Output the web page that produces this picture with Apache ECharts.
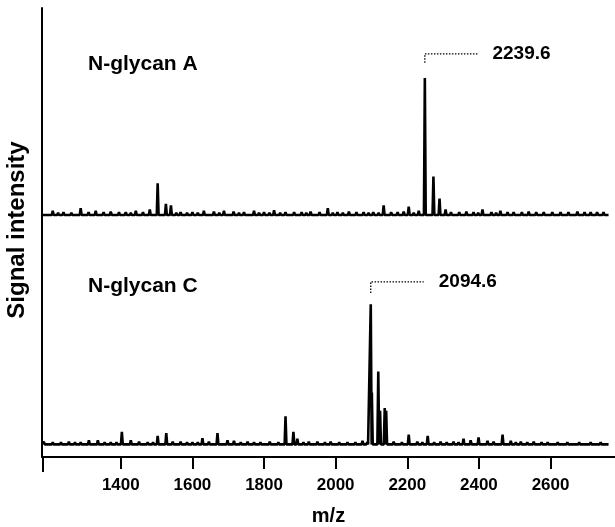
<!DOCTYPE html>
<html>
<head>
<meta charset="utf-8">
<style>
  html, body { margin: 0; padding: 0; background: #fff; }
  #chart { width: 615px; height: 527px; }
</style>
<script src="https://cdn.jsdelivr.net/npm/echarts@6/dist/echarts.min.js"></script>
</head>
<body>
<div id="chart"></div>
<script>
// MALDI spectra of two N-glycans, sharing one m/z axis
const chart = echarts.init(document.getElementById('chart'));

const mzRange = [1180, 2780];
const mzTicks = [1400, 1600, 1800, 2000, 2200, 2400, 2600];
const traceStart = 1182, traceEnd = 2762;

// [m/z, relative intensity], N-glycan A (top)
const peaksA = [
  [1210, 3], [1225, 1.5], [1240, 2], [1262, 1.5], [1288, 5], [1310, 2], [1330, 3], [1352, 2],
  [1372, 2.5], [1395, 2], [1414, 2], [1428, 1.5], [1442, 3], [1462, 2], [1481, 4], [1503, 23],
  [1526, 8], [1540, 7], [1555, 1.5], [1567, 2], [1585, 1.5], [1600, 2], [1615, 1.5], [1632, 3],
  [1660, 2.5], [1675, 1.5], [1688, 3], [1715, 2.5], [1730, 1.5], [1744, 2], [1772, 3], [1786, 1.5],
  [1800, 2], [1815, 1.5], [1828, 3.5], [1845, 1.5], [1860, 2], [1884, 2], [1905, 2], [1918, 1.5],
  [1930, 2.5], [1955, 2], [1978, 5], [1992, 1.5], [2005, 2], [2020, 1.5], [2037, 2.5], [2058, 2],
  [2078, 2], [2092, 1.5], [2105, 2], [2120, 1.5], [2134, 7], [2155, 2], [2173, 2], [2190, 2.5],
  [2204, 6], [2218, 1.5], [2232, 3], [2249, 100], [2273, 28], [2290, 12], [2307, 4], [2322, 2],
  [2345, 2], [2365, 2.5], [2385, 2], [2398, 1.5], [2410, 4], [2435, 2], [2448, 1.5], [2460, 3],
  [2480, 2], [2497, 2], [2520, 2], [2539, 2.5], [2560, 2], [2581, 2], [2605, 2], [2628, 2],
  [2650, 2], [2675, 2.5], [2695, 2], [2712, 2], [2730, 2], [2748, 2]
];

// N-glycan C (bottom)
const peaksC = [
  [1185, 2], [1210, 1.5], [1233, 1.5], [1255, 2], [1272, 1.5], [1288, 1.5], [1311, 3], [1336, 3],
  [1355, 1.5], [1372, 1.5], [1388, 1.5], [1403, 9], [1428, 3], [1451, 2], [1475, 1.5], [1490, 1.5],
  [1503, 6], [1527, 8], [1545, 2], [1567, 2], [1585, 1.5], [1600, 1.5], [1615, 1.5], [1628, 4.5],
  [1646, 2], [1670, 8], [1698, 3], [1716, 2.5], [1735, 1.5], [1754, 2], [1772, 1.5], [1790, 1.5],
  [1816, 2], [1840, 1.5], [1860, 20], [1882, 9], [1893, 4], [1910, 1.5], [1925, 2], [1949, 2],
  [1970, 1.5], [1986, 2], [2010, 1.5], [2033, 1.5], [2055, 1.5], [2075, 2.5], [2088, 1.5],
  [2098, 100], [2101, 37], [2119, 52], [2124, 24], [2137, 26], [2141, 24], [2162, 2], [2185, 1.5],
  [2204, 7], [2228, 2], [2242, 1.5], [2257, 6], [2275, 1.5], [2293, 2], [2310, 1.5], [2329, 2],
  [2343, 1.5], [2357, 4], [2377, 3], [2399, 5], [2424, 2.5], [2441, 2], [2466, 7], [2489, 2.5],
  [2503, 1.5], [2517, 2], [2535, 1.5], [2553, 2], [2575, 1.5], [2592, 1.5], [2620, 1.5], [2647, 1.5],
  [2680, 1.5], [2712, 1.5], [2740, 1.5]
];

// peak annotations: dotted leader from the peak top up, then across to the label
const annotA = { mz: 2249, y0: 111, y1: 117.5, x1: 2396, text: '2239.6' };
const annotC = { mz: 2098, y0: 108, y1: 116, x1: 2246, text: '2094.6' };

const FONT = 'Liberation Sans';

function sticks(peaks){
  const w = 2.5;
  const pts = [[traceStart, 0]];
  peaks.slice().sort((a, b) => a[0] - b[0]).forEach(p => {
    pts.push([p[0] - w, 0], [p[0], p[1]], [p[0] + w, 0]);
  });
  pts.push([traceEnd, 0]);
  return pts;
}

function leader(a, gridIdx){
  return {
    type: 'line',
    xAxisIndex: gridIdx, yAxisIndex: gridIdx,
    showSymbol: false,
    silent: true,
    lineStyle: { color: '#000', width: 1.3, type: [1.5, 1.5] },
    endLabel: {
      show: true, distance: 15, formatter: a.text,
      fontFamily: FONT, fontWeight: 'bold', fontSize: 19, color: '#000'
    },
    data: [[a.mz, a.y0], [a.mz, a.y1], [a.x1, a.y1]]
  };
}

function spectrum(peaks, gridIdx){
  return {
    type: 'line',
    xAxisIndex: gridIdx, yAxisIndex: gridIdx,
    showSymbol: false,
    sampling: null,
    lineStyle: { color: '#000', width: 2.6 },
    data: sticks(peaks)
  };
}

const yBase = {
  type: 'value',
  axisLine: { show: true, onZero: false, lineStyle: { color: '#000', width: 2 } },
  axisTick: { show: false },
  axisLabel: { show: false },
  splitLine: { show: false }
};

chart.setOption({
  animation: false,
  backgroundColor: '#fff',
  grid: [
    { left: 42, right: 0, top: 8, height: 222 },
    { left: 42, right: 0, top: 230, height: 228 }
  ],
  xAxis: [
    { type: 'value', gridIndex: 0, min: mzRange[0], max: mzRange[1], show: false },
    {
      type: 'value', gridIndex: 1, min: mzRange[0], max: mzRange[1],
      name: 'm/z', nameLocation: 'middle', nameGap: 49,
      nameTextStyle: { fontFamily: FONT, fontWeight: 'bold', fontSize: 20, color: '#000' },
      axisLine: { show: true, onZero: false, lineStyle: { color: '#000', width: 2 } },
      axisTick: { show: true, length: 12, customValues: mzTicks, lineStyle: { color: '#000', width: 2 } },
      axisLabel: {
        customValues: mzTicks, margin: 20,
        formatter: v => String(v),
        fontFamily: FONT, fontWeight: 'bold', fontSize: 17, color: '#000'
      },
      splitLine: { show: false }
    }
  ],
  yAxis: [
    Object.assign({ gridIndex: 0, min: -11, max: 151 }, yBase),
    Object.assign({ gridIndex: 1, min: -9, max: 153 }, yBase)
  ],
  graphic: [
    { type: 'line', shape: { x1: 43, y1: 457, x2: 43, y2: 472 }, style: { stroke: '#000', lineWidth: 2 } },
    { type: 'text', x: 17, y: 230, rotation: Math.PI / 2,
      style: { text: 'Signal intensity', fontFamily: FONT, fontWeight: 'bold', fontSize: 24,
               fill: '#000', align: 'center', verticalAlign: 'middle' } },
    { type: 'text', x: 88, y: 64,
      style: { text: 'N-glycan A', fontFamily: FONT, fontWeight: 'bold', fontSize: 21,
               fill: '#000', align: 'left', verticalAlign: 'middle' } },
    { type: 'text', x: 88, y: 286,
      style: { text: 'N-glycan C', fontFamily: FONT, fontWeight: 'bold', fontSize: 21,
               fill: '#000', align: 'left', verticalAlign: 'middle' } }
  ],
  series: [
    spectrum(peaksA, 0),
    spectrum(peaksC, 1),
    leader(annotA, 0),
    leader(annotC, 1)
  ]
});
</script>
</body>
</html>
